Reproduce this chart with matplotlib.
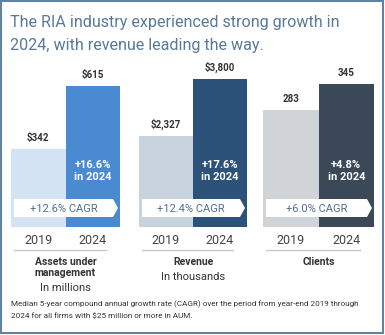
import matplotlib
matplotlib.use("Agg")
import matplotlib.pyplot as plt
from matplotlib.patches import Polygon, Rectangle

plt.rcParams["font.family"] = ["Roboto", "DejaVu Sans"]

# --- data ---
years = ["2019", "2024"]
metrics = ["Assets under\nmanagement", "Revenue", "Clients"]
subtitles = ["In millions", "In thousands", ""]
values_2019 = [342, 2327, 283]
values_2024 = [615, 3800, 345]
value_labels_2019 = ["$342", "$2,327", "283"]
value_labels_2024 = ["$615", "$3,800", "345"]
growth_2024 = ["+16.6%\nin 2024", "+17.6%\nin 2024", "+4.8%\nin 2024"]
cagr = ["+12.6% CAGR", "+12.4% CAGR", "+6.0% CAGR"]

colors_2019 = ["#d3e3f3", "#c9d3dd", "#d0d4d8"]
colors_2024 = ["#4a8ad0", "#2c5279", "#3b4857"]

W, H = 385, 335
fig = plt.figure(figsize=(W / 100, H / 100), dpi=100)
fig.patch.set_facecolor("white")

# panel geometry in pixels (left, right), bar bottom and pixel height of the 2024 bar
panel_x = [(11, 120), (139, 247), (263, 374)]
bar_bottom = 227
top_px = [86, 79, 84]
ax_h = 170

for i in range(3):
    x0, x1 = panel_x[i]
    ax = fig.add_axes([x0 / W, (H - bar_bottom) / H, (x1 - x0) / W, ax_h / H])
    ymax = values_2024[i] * ax_h / (bar_bottom - top_px[i])
    ax.bar([0, 1], [values_2019[i], values_2024[i]], width=1.0,
           color=[colors_2019[i], colors_2024[i]], linewidth=0)
    ax.set_xlim(-0.5, 1.5)
    ax.set_ylim(0, ymax)
    ax.axis("off")
    ax.text(0, values_2019[i] + ymax * 0.035, value_labels_2019[i], ha="center", va="bottom",
            fontsize=7, fontweight="bold", color="#333333")
    ax.text(1, values_2024[i] + ymax * 0.035, value_labels_2024[i], ha="center", va="bottom",
            fontsize=7, fontweight="bold", color="#333333")

# overlay for text and decorations, pixel coordinates
ov = fig.add_axes([0, 0, 1, 1], zorder=10)
ov.set_xlim(0, W)
ov.set_ylim(H, 0)
ov.axis("off")
ov.patch.set_alpha(0)

ov.text(10, 27, "The RIA industry experienced strong growth in", fontsize=11.6,
        color="#57799a", va="baseline")
ov.text(10, 50, "2024, with revenue leading the way.", fontsize=11.6,
        color="#57799a", va="baseline")

for i in range(3):
    x0, x1 = panel_x[i]
    xm = (x0 + x1) / 2
    w = (x1 - x0) / 2
    # growth label inside 2024 bar
    ov.text(xm + w / 2, 171, growth_2024[i], ha="center", va="center", fontsize=8,
            fontweight="bold", color="white", linespacing=1.15)
    # CAGR arrow
    pts = [(x0 + 3, 199), (x1 - 7, 199), (x1 - 2, 208), (x1 - 7, 217), (x0 + 3, 217)]
    ov.add_patch(Polygon(pts, closed=True, facecolor="white", edgecolor="none"))
    ov.text((x0 + 3 + x1 - 7) / 2, 208.5, cagr[i], ha="center", va="center",
            fontsize=8, color="#4f6f8f")
    # years
    ov.text(x0 + w / 2, 240, years[0], ha="center", va="center", fontsize=9, color="#444444")
    ov.text(xm + w / 2, 240, years[1], ha="center", va="center", fontsize=9, color="#444444")
    ov.plot([x0 + 3, x1 - 14], [250, 250], color="#c8c8c8", linewidth=1)
    # category labels
    ov.text(xm, 257, metrics[i], ha="center", va="top", fontsize=7.5,
            fontweight="bold", color="#333333", linespacing=1.15)
    if subtitles[i]:
        sy = 283 if "\n" in metrics[i] else 272
        ov.text(xm, sy, subtitles[i], ha="center", va="top", fontsize=8, color="#333333")

ov.text(11, 304, "Median 5-year compound annual growth rate (CAGR) over the period from year-end 2019 through",
        fontsize=5.9, color="#333333", va="center")
ov.text(11, 316, "2024 for all firms with $25 million or more in AUM.",
        fontsize=5.9, color="#333333", va="center")

ov.add_patch(Rectangle((1, 1), W - 3, H - 3, facecolor="none", edgecolor="#5f84a3", linewidth=1.5))

fig.savefig("out.png", dpi=100)
